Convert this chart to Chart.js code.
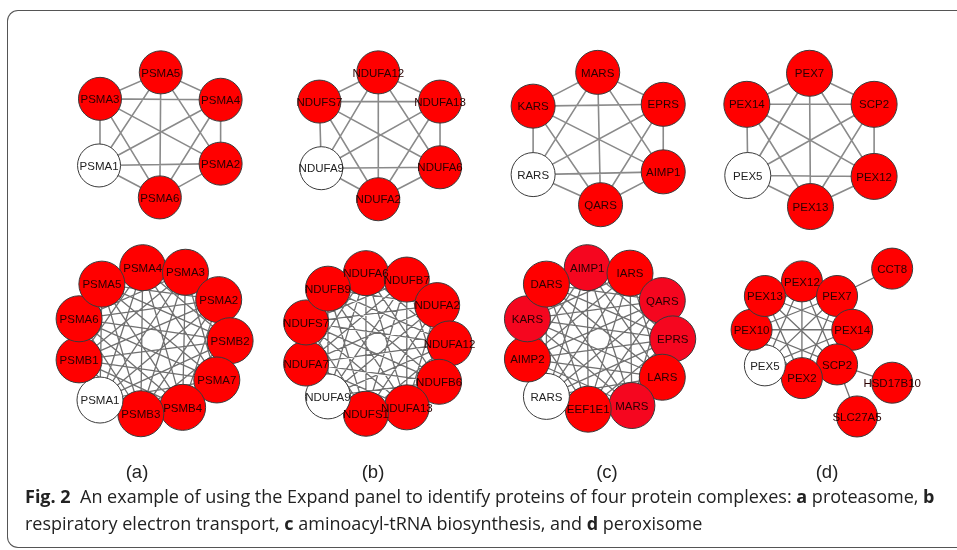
<!DOCTYPE html>
<html>
<head>
<meta charset="utf-8">
<script src="https://cdn.jsdelivr.net/npm/chart.js@4.4.1/dist/chart.umd.min.js"></script>
<style>
  body { margin: 0; background: #fff; }
  #wrap { position: relative; width: 957px; height: 550px; overflow: hidden; }
  #frame { position: absolute; left: 7px; top: 10px; width: 1000px; height: 536px;
           border: 1.5px solid #555; border-right: none; border-radius: 11px; }
  canvas { position: absolute; left: 0; top: 0; }
  .panel { position: absolute; width: 60px; text-align: center; top: 461px;
           font: 18.5px "Liberation Sans", Arial, sans-serif; color: #222; line-height: 22px; }
  #caption { position: absolute; left: 25px; top: 483px; white-space: nowrap;
             font: 18px "Open Sans", sans-serif; line-height: 27px; color: #222; }
  #caption b { font-weight: 700; }
</style>
</head>
<body>
<div id="wrap">
  <div id="frame"></div>
  <canvas id="net" width="957" height="550"></canvas>
  <div class="panel" style="left:107px">(a)</div>
  <div class="panel" style="left:343px">(b)</div>
  <div class="panel" style="left:577px">(c)</div>
  <div class="panel" style="left:797px">(d)</div>
  <div id="caption"><b>Fig. 2</b>&nbsp; An example of using the Expand panel to identify proteins of four protein complexes: <b>a</b> proteasome, <b>b</b><br>respiratory electron transport, <b>c</b> aminoacyl-tRNA biosynthesis, and <b>d</b> peroxisome</div>
</div>
<script>
// top row: query complexes
const namesA1 = ['PSMA5', 'PSMA4', 'PSMA2', 'PSMA6', 'PSMA1', 'PSMA3'];
const xA1 = [144, 207, 207, 143, 79, 80];
const yA1 = [53, 83, 153, 190, 155, 82];

const namesB1 = ['NDUFA12', 'NDUFA13', 'NDUFA6', 'NDUFA2', 'NDUFA9', 'NDUFS7'];
const xB1 = [373, 438, 438, 373, 313, 311];
const yB1 = [53, 85, 157, 192, 158, 85];

const namesC1 = ['MARS', 'EPRS', 'AIMP1', 'QARS', 'RARS', 'KARS'];
const xC1 = [604, 673, 673, 607, 536, 536];
const yC1 = [53, 88, 162, 198, 165, 90];

const namesD1 = ['PEX7', 'SCP2', 'PEX12', 'PEX13', 'PEX5', 'PEX14'];
const xD1 = [827, 895, 895, 828, 762, 761];
const yD1 = [54, 88, 167, 200, 166, 88];

// bottom row: expanded complexes
const namesA2 = ['PSMA4', 'PSMA3', 'PSMA2', 'PSMB2', 'PSMA7', 'PSMB4', 'PSMB3', 'PSMA1', 'PSMB1', 'PSMA6', 'PSMA5'];
const xA2 = [125, 170, 205, 217, 203, 167, 123, 80, 58, 58, 82];
const yA2 = [267, 272, 302, 347, 390, 420, 427, 412, 368, 323, 285];

const namesB2 = ['NDUFA6', 'NDUFB7', 'NDUFA2', 'NDUFA12', 'NDUFB6', 'NDUFA13', 'NDUFS1', 'NDUFA9', 'NDUFA7', 'NDUFS7', 'NDUFB9'];
const xB2 = [360, 403, 435, 448, 437, 403, 360, 320, 297, 297, 320];
const yB2 = [273, 280, 308, 350, 392, 420, 427, 408, 372, 327, 290];

const namesC2 = ['AIMP1', 'IARS', 'QARS', 'EPRS', 'LARS', 'MARS', 'EEF1E1', 'RARS', 'AIMP2', 'KARS', 'DARS'];
const xC2 = [593, 638, 672, 683, 672, 640, 594, 550, 530, 530, 550];
const yC2 = [267, 273, 303, 345, 387, 418, 422, 408, 367, 323, 285];

const namesD2 = ['PEX12', 'PEX7', 'PEX14', 'SCP2', 'PEX2', 'PEX5', 'PEX10', 'PEX13', 'CCT8', 'HSD17B10', 'SLC27A5'];
const xD2 = [819, 856, 872, 856, 819, 780, 766, 780, 914, 914, 877];
const yD2 = [282, 298, 335, 373, 388, 374, 335, 298, 268, 393, 430];
const ringD2 = 8;                       // first 8 nodes are fully linked
const extraD2 = [['PEX7', 'CCT8'], ['SCP2', 'HSD17B10'], ['SCP2', 'SLC27A5']];

// query proteins drawn white, lighter red for some in (c)
const whiteNodes = ['PSMA1', 'NDUFA9', 'RARS', 'PEX5'];
const pinkC2 = ['AIMP1', 'QARS', 'EPRS', 'MARS', 'KARS'];

const RED = '#ff0000', PINK = '#f5061f', WHITE = '#ffffff';

function nodesOf(names, xs, ys, r, pink) {
  return names.map((n, i) => ({
    x: xs[i], y: ys[i], name: n, r: r,
    fill: whiteNodes.includes(n) ? WHITE : (pink && pink.includes(n) ? PINK : RED)
  }));
}

function cliqueEdges(nodes, count) {
  const out = [];
  const k = count || nodes.length;
  for (let i = 0; i < k; i++) {
    for (let j = i + 1; j < k; j++) {
      out.push({ x: nodes[i].x, y: nodes[i].y }, { x: nodes[j].x, y: nodes[j].y }, { x: null, y: null });
    }
  }
  return out;
}

const nets = [
  { nodes: nodesOf(namesA1, xA1, yA1, 21.5), top: true },
  { nodes: nodesOf(namesB1, xB1, yB1, 21.5), top: true },
  { nodes: nodesOf(namesC1, xC1, yC1, 22), top: true },
  { nodes: nodesOf(namesD1, xD1, yD1, 23), top: true },
  { nodes: nodesOf(namesA2, xA2, yA2, 23) },
  { nodes: nodesOf(namesB2, xB2, yB2, 22.5) },
  { nodes: nodesOf(namesC2, xC2, yC2, 23, pinkC2) },
  { nodes: nodesOf(namesD2, xD2, yD2, 20.5), ring: ringD2, extra: extraD2 }
];

const datasets = [];
nets.forEach(net => {
  let edges = cliqueEdges(net.nodes, net.ring);
  if (net.extra) {
    net.extra.forEach(([a, b]) => {
      const p = net.nodes.find(n => n.name === a), q = net.nodes.find(n => n.name === b);
      edges.push({ x: p.x, y: p.y }, { x: q.x, y: q.y }, { x: null, y: null });
    });
  }
  datasets.push({
    type: 'line', data: edges, order: 2, showLine: true, spanGaps: false,
    borderColor: net.top ? '#8a8a8a' : '#707070', borderWidth: net.top ? 1.6 : 1.3,
    pointRadius: 0, tension: 0
  });
});
const allNodes = [].concat(...nets.map(n => n.nodes));
datasets.push({
  type: 'scatter', data: allNodes, order: 1,
  pointRadius: allNodes.map(n => n.r),
  pointHoverRadius: allNodes.map(n => n.r),
  backgroundColor: allNodes.map(n => n.fill),
  borderColor: '#3a3a3a', borderWidth: 1
});

const nodeLabels = {
  id: 'nodeLabels',
  afterDatasetsDraw(chart) {
    const ctx = chart.ctx;
    const meta = chart.getDatasetMeta(chart.data.datasets.length - 1);
    ctx.save();
    ctx.textAlign = 'center';
    ctx.textBaseline = 'middle';
    ctx.font = '11.5px "Liberation Sans", Arial, sans-serif';
    meta.data.forEach((pt, i) => {
      const n = allNodes[i];
      ctx.fillStyle = n.fill === WHITE ? '#222' : '#2a0000';
      ctx.fillText(n.name, pt.x, pt.y + 1);
    });
    ctx.restore();
  }
};

new Chart(document.getElementById('net'), {
  type: 'scatter',
  data: { datasets: datasets },
  options: {
    responsive: false,
    animation: false,
    devicePixelRatio: 1,
    layout: { padding: 0 },
    plugins: { legend: { display: false }, tooltip: { enabled: false } },
    events: [],
    scales: {
      x: { type: 'linear', min: 0, max: 957, display: false },
      y: { type: 'linear', min: 0, max: 550, reverse: true, display: false }
    }
  },
  plugins: [nodeLabels]
});
</script>
</body>
</html>
